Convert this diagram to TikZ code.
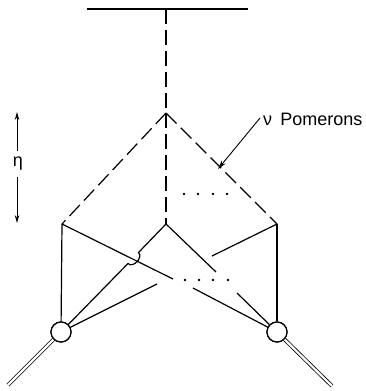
\documentclass[tikz,border=0pt]{standalone}
\usepackage{fontspec}
\setmainfont{Liberation Sans}
\usetikzlibrary{arrows.meta}
\begin{document}
\begin{tikzpicture}[x=1pt,y=-1pt,
  ln/.style={line width=1.2pt},
  dsh/.style={line width=1.2pt, dash pattern=on 15pt off 6pt},
  dbl/.style={line width=0.8pt, double, double distance=2.2pt},
  blob/.style={circle, draw, line width=1.2pt, minimum size=20pt, inner sep=0pt, fill=white},
  dotm/.style={circle, fill, inner sep=0pt, minimum size=2.6pt},
  tip/.style={-{Stealth[length=9pt,width=5pt]}},
  lbl/.style={inner sep=0pt, font=\fontsize{18}{21}\selectfont}]
\useasboundingbox (0,0) rectangle (366,391);
% coordinates
\coordinate (tl) at (87,9);
\coordinate (tr) at (248,9);
\coordinate (tm) at (166,9);
\coordinate (apex) at (166,113);
\coordinate (L) at (62,224);
\coordinate (M) at (166,224);
\coordinate (R) at (277,224);
\node[blob] (CL) at (61,332) {};
\node[blob] (CR) at (277,332) {};
\coordinate (eL) at (8,385);
\coordinate (eR) at (332,386);
% top line and pomerons
\draw[ln] (tl) -- (tr);
\draw[dsh] (tm) -- (apex);
\draw[dsh] (apex) -- (M);
\draw[dsh] (apex) -- (L);
\draw[dsh] (apex) -- (R);
% upper dots
\foreach \i/\x in {1/184,2/198,3/213,4/227} \node[dotm] (ud\i) at (\x,194) {};
% lower dots
\foreach \i/\x in {1/185,2/199,3/213,4/228} \node[dotm] (ld\i) at (\x,280) {};
% free ends
\coordinate (a1) at (173,279);
\coordinate (a2) at (216,272);
\coordinate (a3) at (212,256);
\coordinate (a4) at (157,284);
\coordinate (a5) at (193,288);
\coordinate (a6) at (237,293);
\coordinate (hA) at (138.5,252.5);
\coordinate (hB) at (128,263.5);
% solid lines
\draw[ln] (L) -- (CL);
\draw[ln] (R) -- (CR);
\draw[ln] (L) -- (a1);
\draw[ln] (M) -- (a2);
\draw[ln] (R) -- (a3);
\draw[ln] (M) -- (hA) .. controls (143.5,257.5) and (133,268.5) .. (hB) -- (CL);
\draw[ln] (CL) -- (a4);
\draw[ln] (CR) -- (a5);
\draw[ln] (CR) -- (a6);
% external legs
\draw[dbl] (CL) -- (eL);
\draw[dbl] (CR) -- (eR);
\node[blob] at (CL) {};
\node[blob] at (CR) {};
% eta arrow
\node[lbl] (eta) at (18,164) {η};
\coordinate (etop) at (17,112);
\coordinate (ebot) at (17,223);
\draw[line width=0.9pt, -{Stealth[length=8pt,width=4.5pt]}] (17,151) -- (etop);
\draw[line width=0.9pt, -{Stealth[length=8pt,width=4.5pt]}] (17,177) -- (ebot);
% label
\node[lbl, anchor=base west] (nu) at (263,125) {ν\hspace{0.45em}Pomerons};
\coordinate (astart) at (260,118);
\coordinate (aend) at (218,169);
\draw[line width=0.9pt, tip] (astart) -- (aend);
\end{tikzpicture}
\end{document}
